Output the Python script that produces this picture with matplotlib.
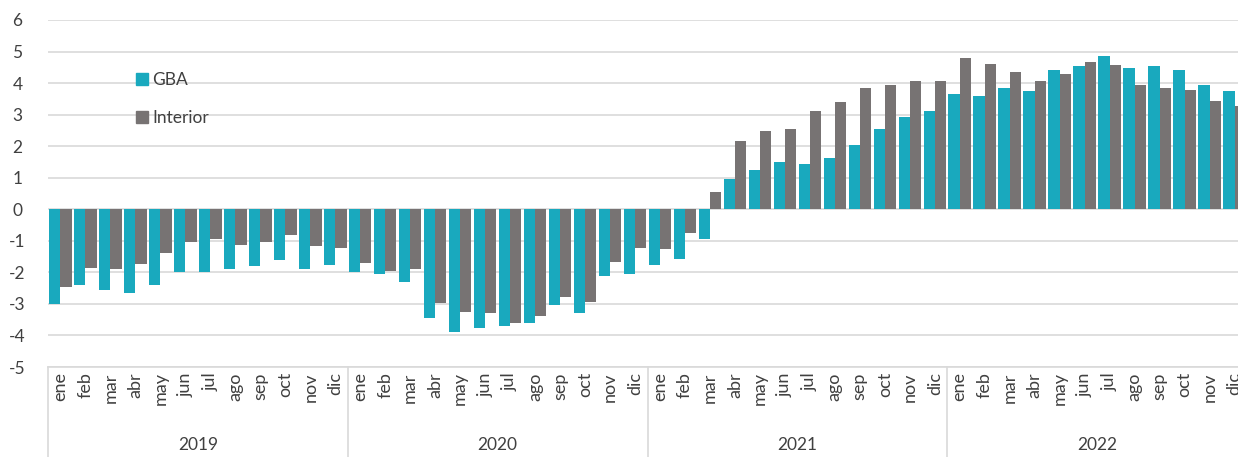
import matplotlib.pyplot as plt
import matplotlib.transforms as mtransforms
from matplotlib.patches import Patch
import numpy as np

plt.rcParams['font.family'] = ['Lato', 'DejaVu Sans']

years = ['2019', '2020', '2021', '2022']
months = ['ene', 'feb', 'mar', 'abr', 'may', 'jun', 'jul', 'ago', 'sep', 'oct', 'nov', 'dic']

gba = [-3.0, -2.39, -2.55, -2.64, -2.39, -2.0, -2.0, -1.89, -1.81, -1.62, -1.89, -1.78,
       -2.0, -2.05, -2.29, -3.46, -3.9, -3.76, -3.7, -3.62, -3.03, -3.28, -2.1, -2.05,
       -1.78, -1.57, -0.95, 0.95, 1.25, 1.51, 1.43, 1.64, 2.05, 2.54, 2.93, 3.11,
       3.65, 3.6, 3.84, 3.76, 4.42, 4.53, 4.87, 4.47, 4.53, 4.42, 3.95, 3.76]
interior = [-2.45, -1.86, -1.89, -1.72, -1.38, -1.03, -0.94, -1.14, -1.03, -0.8, -1.17, -1.23,
            -1.7, -1.97, -1.89, -2.98, -3.27, -3.28, -3.62, -3.37, -2.77, -2.93, -1.68, -1.22,
            -1.27, -0.74, 0.55, 2.15, 2.49, 2.54, 3.12, 3.41, 3.83, 3.94, 4.07, 4.07,
            4.81, 4.62, 4.34, 4.07, 4.29, 4.66, 4.57, 3.94, 3.83, 3.79, 3.44, 3.28]

c_gba = '#19A9BE'
c_int = '#777373'
grid_c = '#D9D9D9'
txt_c = '#404040'

fig = plt.figure(figsize=(12.38, 4.57), dpi=100)
ax = fig.add_axes([48 / 1238, 1 - 367 / 457, (1247 - 48) / 1238, 347 / 457])

n = len(gba)
x = np.arange(n)
w = 0.45
ax.bar(x - w / 2, gba, w, color=c_gba, zorder=3)
ax.bar(x + w / 2, interior, w, color=c_int, zorder=3)

ax.set_xlim(-0.5, n - 0.5)
ax.set_ylim(-5, 6)
ax.set_yticks(range(-5, 7))
ax.yaxis.grid(True, color=grid_c, linewidth=1.2, zorder=0)
for s in ['top', 'right', 'left', 'bottom']:
    ax.spines[s].set_visible(False)
ax.tick_params(axis='y', length=0, labelsize=12.5, labelcolor=txt_c, pad=22)
ax.set_yticklabels([str(v) for v in range(-5, 7)], ha='center')
ax.set_xticks([])

# category box below the plot
trans = mtransforms.blended_transform_factory(ax.transData, ax.transAxes)
ax.plot([-0.5, n - 0.5], [0, 0], color=grid_c, lw=1.2, transform=trans, clip_on=False)
for k in range(len(years) + 1):
    xs = k * 12 - 0.5
    ax.plot([xs, xs], [0, -0.3], color=grid_c, lw=1.2, transform=trans, clip_on=False)

for i in range(n):
    ax.text(i, -0.015, months[i % 12], rotation=90, ha='center', va='top',
            fontsize=13, color=txt_c, transform=trans, clip_on=False)

for k, yr in enumerate(years):
    ax.text(k * 12 + 5.5, -0.225, yr, ha='center', va='center', fontsize=12.5,
            color=txt_c, transform=trans, clip_on=False)

handles = [Patch(color=c_gba, label='GBA'), Patch(color=c_int, label='Interior')]
ax.legend(handles=handles, loc='upper left', bbox_to_anchor=(0.066, 0.875),
          frameon=False, fontsize=12.5, labelspacing=1.25, handlelength=0.7,
          handleheight=0.7, handletextpad=0.25, borderpad=0, labelcolor=txt_c)

fig.savefig('out.png', dpi=100)
